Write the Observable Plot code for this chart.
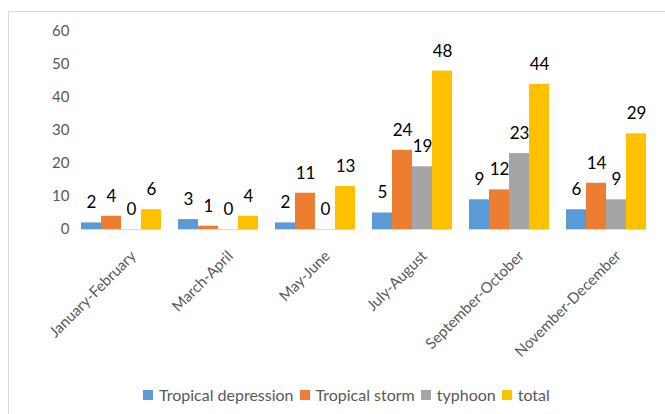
<!DOCTYPE html>
<html>
<head>
<meta charset="utf-8">
<script src="https://cdn.jsdelivr.net/npm/d3@7"></script>
<script src="https://cdn.jsdelivr.net/npm/@observablehq/plot@0.6"></script>
<style>
  html, body { margin: 0; padding: 0; background: #fff; width: 665px; height: 414px; overflow: hidden; }
  #wrap { position: relative; width: 665px; height: 414px; font-family: Lato, "Liberation Sans", sans-serif; }
  #border { position: absolute; left: 8px; top: 11px; width: 700px; height: 450px; border: 1px solid #D9D9D9; box-sizing: border-box; }
  #chart { position: absolute; left: 0; top: 0; }
  #legend { position: absolute; left: 143px; top: 385px; display: flex; align-items: center; font-size: 16px; color: #595959; white-space: nowrap; }
  .item { display: flex; align-items: center; margin-right: 6px; }
  .sw { width: 10px; height: 10px; margin-right: 6px; }
</style>
</head>
<body>
<div id="wrap">
  <div id="border"></div>
  <div id="chart"></div>
  <div id="legend"></div>
</div>
<script>
const periods = ["January-February", "March-April", "May-June", "July-August", "September-October", "November-December"];
const seriesNames = ["Tropical depression", "Tropical storm", "typhoon", "total"];
const tropicalDepression = [2, 3, 2, 5, 9, 6];
const tropicalStorm = [4, 1, 11, 24, 12, 14];
const typhoon = [0, 0, 0, 19, 23, 9];
const total = [6, 4, 13, 48, 44, 29];
const colors = ["#5B9BD5", "#ED7D31", "#A5A5A5", "#FFC000"];
const yTicks = [0, 10, 20, 30, 40, 50, 60];

const seriesValues = [tropicalDepression, tropicalStorm, typhoon, total];
const data = [];
periods.forEach((p, i) => {
  seriesNames.forEach((s, j) => {
    data.push({period: p, series: s, value: seriesValues[j][i]});
  });
});

const chart = Plot.plot({
  width: 665,
  height: 380,
  marginLeft: 72,
  marginRight: 10,
  marginTop: 31,
  marginBottom: 151,
  style: {fontFamily: "Lato, 'Liberation Sans', sans-serif", fontSize: "15px", color: "#595959", background: "transparent"},
  fx: {domain: periods, paddingInner: 0.175, paddingOuter: 0.0875, label: null, axis: null},
  x: {domain: seriesNames, padding: 0, axis: null},
  y: {domain: [0, 60], label: null, axis: null},
  color: {domain: seriesNames, range: colors},
  marks: [
    Plot.axisY(yTicks, {anchor: "left", tickSize: 0, tickPadding: 12, fontSize: 15, fill: "#595959", label: null}),
    Plot.axisFx({anchor: "bottom", tickRotate: -45, tickSize: 0, tickPadding: 24, dx: 12, fontSize: 15, fill: "#595959", label: null}),
    Plot.barY(data, {fx: "period", x: "series", y: "value", fill: "series"}),
    Plot.ruleY([0], {stroke: "#D9D9D9", strokeWidth: 1}),
    Plot.text(data, {fx: "period", x: "series", y: "value", text: d => String(d.value), dy: -20, fontSize: 17, fill: "#000"})
  ]
});
document.getElementById("chart").appendChild(chart);

const legend = document.getElementById("legend");
seriesNames.forEach((s, j) => {
  const item = document.createElement("div");
  item.className = "item";
  const sw = document.createElement("div");
  sw.className = "sw";
  sw.style.background = colors[j];
  const t = document.createElement("span");
  t.textContent = s;
  item.appendChild(sw);
  item.appendChild(t);
  legend.appendChild(item);
});
</script>
</body>
</html>
